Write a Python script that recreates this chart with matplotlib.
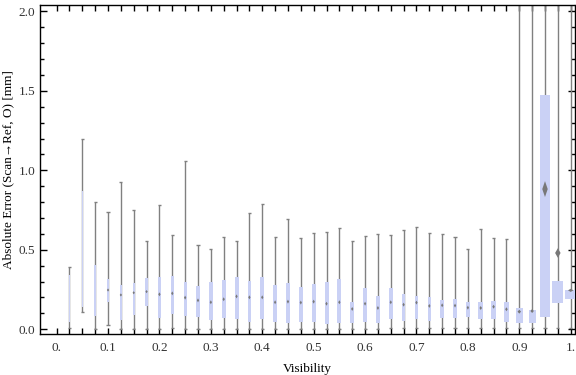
import matplotlib
matplotlib.use("Agg")
import matplotlib.pyplot as plt
import numpy as np

# ---- data ----
visibility = [0.025, 0.05, 0.075, 0.1, 0.125, 0.15, 0.175, 0.2, 0.225, 0.25,
              0.275, 0.3, 0.325, 0.35, 0.375, 0.4, 0.425, 0.45, 0.475, 0.5,
              0.525, 0.55, 0.575, 0.6, 0.625, 0.65, 0.675, 0.7, 0.725, 0.75,
              0.775, 0.8, 0.825, 0.85, 0.875, 0.9, 0.925, 0.95, 0.975, 1.0]
whisker_low = [0.006, 0.107, 0.004, 0.025, 0.004, 0.004, 0.004, 0.004, 0.008, 0.004,
               0.004, 0.002, 0.004, 0.004, 0.002, 0.004, 0.004, 0.002, 0.004, 0.004,
               0.004, 0.004, 0.004, 0.004, 0.004, 0.006, 0.006, 0.006, 0.006, 0.006,
               0.006, 0.006, 0.006, 0.006, 0.006, 0.006, 0.006, 0.006, 0.006, 0.006]
q1 = [0.048, 0.142, 0.084, 0.174, 0.058, 0.090, 0.149, 0.071, 0.096, 0.084,
      0.079, 0.058, 0.073, 0.067, 0.048, 0.063, 0.048, 0.042, 0.048, 0.048,
      0.035, 0.038, 0.042, 0.048, 0.042, 0.063, 0.054, 0.063, 0.054, 0.069,
      0.073, 0.075, 0.063, 0.063, 0.048, 0.038, 0.038, 0.075, 0.164, 0.189]
center = [0.200, 0.450, 0.226, 0.247, 0.216, 0.230, 0.237, 0.220, 0.226, 0.199,
          0.182, 0.170, 0.189, 0.207, 0.201, 0.201, 0.170, 0.174, 0.168, 0.174,
          0.161, 0.170, 0.128, 0.161, 0.134, 0.170, 0.155, 0.168, 0.147, 0.151,
          0.149, 0.136, 0.134, 0.142, 0.126, 0.111, 0.115, 0.882, 0.480, 0.245]
q3 = [0.341, 0.872, 0.406, 0.316, 0.279, 0.293, 0.325, 0.331, 0.337, 0.300,
      0.272, 0.300, 0.310, 0.329, 0.304, 0.329, 0.279, 0.293, 0.266, 0.287,
      0.300, 0.316, 0.172, 0.260, 0.209, 0.260, 0.222, 0.209, 0.201, 0.184,
      0.191, 0.172, 0.172, 0.178, 0.172, 0.134, 0.121, 1.474, 0.304, 0.247]
whisker_high = [0.390, 1.197, 0.800, 0.736, 0.926, 0.750, 0.555, 0.780, 0.591, 1.056,
                0.528, 0.503, 0.581, 0.553, 0.729, 0.786, 0.581, 0.694, 0.572, 0.604,
                0.612, 0.635, 0.555, 0.587, 0.599, 0.591, 0.625, 0.642, 0.604, 0.597,
                0.579, 0.503, 0.629, 0.574, 0.568, 2.6, 3.0, 3.4, 2.9, 2.5]
# relative box width (fraction of bin spacing)
box_rel_width = [0.08, 0.10, 0.12, 0.16, 0.16, 0.18, 0.18, 0.23, 0.23, 0.23,
                 0.27, 0.31, 0.31, 0.31, 0.27, 0.31, 0.31, 0.31, 0.31, 0.31,
                 0.31, 0.31, 0.27, 0.27, 0.27, 0.31, 0.27, 0.23, 0.23, 0.31,
                 0.31, 0.31, 0.39, 0.39, 0.39, 0.54, 0.54, 0.85, 0.85, 0.85]
# vertical extent of centre marker (data units)
marker_height = [0.0, 0.0, 0.0, 0.02, 0.02, 0.02, 0.02, 0.025, 0.025, 0.025,
                 0.025, 0.025, 0.025, 0.025, 0.025, 0.025, 0.025, 0.025, 0.025, 0.025,
                 0.025, 0.025, 0.025, 0.025, 0.025, 0.025, 0.025, 0.025, 0.025, 0.025,
                 0.025, 0.025, 0.025, 0.025, 0.025, 0.025, 0.025, 0.10, 0.06, 0.02]

x_ticks = [0.0, 0.1, 0.2, 0.3, 0.4, 0.5, 0.6, 0.7, 0.8, 0.9, 1.0]
x_ticklabels = ["0.", "0.1", "0.2", "0.3", "0.4", "0.5", "0.6", "0.7", "0.8", "0.9", "1."]
y_ticks = [0.0, 0.5, 1.0, 1.5, 2.0]
y_ticklabels = ["0.0", "0.5", "1.0", "1.5", "2.0"]

# ---- style ----
serif = ["Liberation Serif", "DejaVu Serif"]
plt.rcParams["font.family"] = serif
BOX = "#cad1f5"
WHISK = "#808080"
MARK = "#787878"
spacing = 0.025

fig = plt.figure(figsize=(5.76, 3.75), dpi=100)
W, H = 576, 375
left, right, top, bottom = 39.5, 574.5, 4.5, 334.0
ax = fig.add_axes([left / W, 1 - bottom / H, (right - left) / W, (bottom - top) / H])

for i, x in enumerate(visibility):
    w = box_rel_width[i] * spacing
    ax.vlines(x, whisker_low[i], whisker_high[i], color=WHISK, lw=1.0, zorder=2)
    cap = 0.006
    ax.hlines([whisker_low[i], whisker_high[i]], x - cap / 2, x + cap / 2,
              color=WHISK, lw=1.0, zorder=2)
    ax.bar(x, q3[i] - q1[i], bottom=q1[i], width=w, color=BOX, lw=0, zorder=3)
    mh = marker_height[i]
    if mh > 0:
        hw = max(w * 0.25, 0.0022)
        c = center[i]
        ax.fill([x - hw, x, x + hw, x], [c, c + mh / 2, c, c - mh / 2],
                color=MARK, lw=0, zorder=4)

ax.set_xlim(-0.0333, 1.0074)
ax.set_ylim(-0.0296, 2.043)

ax.set_xticks(x_ticks)
ax.set_xticklabels(x_ticklabels)
ax.set_xticks(visibility, minor=True)
ax.set_yticks(y_ticks)
ax.set_yticklabels(y_ticklabels)
ax.set_yticks(np.arange(0, 2.01, 0.1), minor=True)

ax.tick_params(axis="x", which="both", direction="in", length=4, width=1,
               top=True, bottom=True, labelsize=9.5, labelcolor="#333333", pad=6)
ax.tick_params(axis="y", which="major", direction="in", length=5, width=1,
               left=True, right=True, labelsize=9.5, labelcolor="#333333", pad=3)
ax.tick_params(axis="y", which="minor", direction="in", length=3, width=1,
               left=True, right=True)
for s in ax.spines.values():
    s.set_linewidth(1.0)

ax.set_xlabel("Visibility", fontsize=9.5, labelpad=6)
ax.set_ylabel("Absolute Error (Scan\u2192Ref, O) [mm]", fontsize=9.5, labelpad=3)

fig.savefig("out.png", dpi=100)
